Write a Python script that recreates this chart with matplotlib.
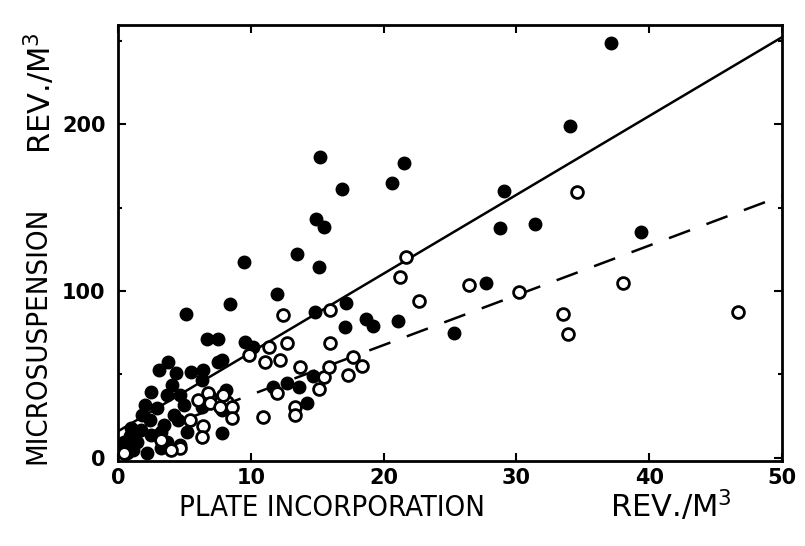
import matplotlib
matplotlib.use("Agg")
import matplotlib.pyplot as plt
from matplotlib.ticker import MultipleLocator

# filled circles (x = plate incorporation, y = microsuspension), rev./m3
filled_x = [37.1, 34.0, 15.2, 21.5, 20.6, 16.9, 14.9, 15.5, 9.5, 13.5, 15.1, 12.0,
            8.4, 5.1, 14.8, 17.2, 17.1, 18.7, 19.2, 21.1, 29.1, 28.8, 31.4, 39.4,
            27.7, 25.3, 6.7, 7.5, 9.6, 10.2, 7.8, 6.4, 14.7, 11.7, 12.7, 13.6,
            14.2, 8.1, 7.8, 7.8, 6.3,
            3.1, 3.8, 4.4, 5.5, 6.3, 2.5, 3.7, 4.7, 1.8, 2.9, 4.2, 5.2, 1.0, 0.45,
            1.4, 2.5, 3.7, 4.7, 0.7, 2.2, 3.2, 7.5, 4.1, 2.4, 3.5, 4.5, 1.7, 0.15,
            1.1, 3.2, 5.0, 2.0, 0.9]
filled_y = [248.5, 198.8, 180.2, 176.6, 164.7, 161.1, 143.1, 138.3, 117.4, 122.2, 114.4, 98.2,
            92.2, 86.2, 87.4, 92.8, 78.4, 83.2, 79.0, 82.0, 159.9, 137.7, 140.1, 135.3,
            104.8, 74.9, 71.3, 71.3, 69.5, 66.5, 58.7, 52.7, 49.1, 42.5, 44.9, 42.5,
            32.9, 40.7, 28.7, 15.0, 30.5,
            52.7, 57.5, 50.9, 51.5, 46.7, 39.5, 37.7, 37.7, 25.7, 29.9, 25.7, 15.6, 18.0, 9.6,
            9.6, 13.8, 9.6, 7.8, 3.0, 3.0, 6.0, 57.5, 43.7, 22.8, 19.8, 22.8, 16.8, 7.8,
            4.8, 15.6, 31.7, 31.7, 13.2]

# open circles
open_x = [12.4, 16.0, 21.7, 21.2, 22.7, 34.6, 26.4, 30.2, 38.0, 33.5, 33.9, 46.7,
          16.0, 11.4, 12.7, 9.9, 11.1, 12.2, 13.7, 15.5, 15.9, 17.7, 18.4, 17.3,
          15.1, 12.0, 13.3, 13.3, 10.9, 6.9, 8.2, 8.6, 8.6, 6.4, 6.3, 6.8, 6.0,
          6.9, 7.9, 7.7, 4.7, 4.0, 0.45, 3.2, 5.4]
open_y = [85.6, 88.6, 120.4, 108.4, 94.0, 159.3, 103.6, 99.4, 104.8, 86.2, 74.3, 87.4,
          68.9, 66.5, 68.9, 61.7, 57.5, 58.7, 54.5, 48.5, 54.5, 60.5, 55.1, 49.7,
          41.3, 38.9, 30.5, 25.7, 24.6, 36.5, 33.5, 30.5, 24.0, 19.2, 12.6, 38.9, 34.7,
          32.9, 37.7, 30.5, 6.0, 4.8, 3.0, 10.8, 22.8]

# regression lines
solid_x = [0, 50]
solid_y = [16, 252]
dashed_x = [2, 50]
dashed_y = [14, 157]

fig = plt.figure(figsize=(8.05, 5.46), dpi=100)
ax = fig.add_axes([0.1466, 0.1557, 0.8248, 0.7985])

ax.plot(solid_x, solid_y, color='black', lw=1.8, zorder=2)
ax.plot(dashed_x, dashed_y, color='black', lw=1.8, dashes=(9, 7), zorder=2)
ax.plot(filled_x, filled_y, 'o', ms=9, color='black', zorder=3)
ax.plot(open_x, open_y, 'o', ms=8.5, mfc='white', mec='black', mew=2, zorder=4)

ax.set_xlim(0, 50)
ax.set_ylim(-1.8, 259.3)
ax.set_xticks([0, 10, 20, 30, 40, 50])
ax.set_yticks([0, 100, 200])
ax.yaxis.set_minor_locator(MultipleLocator(50))
ax.tick_params(which='both', direction='in', top=True, right=True, width=1.5)
ax.tick_params(which='major', length=6, labelsize=15)
ax.tick_params(axis='x', pad=5)
ax.tick_params(axis='y', pad=9)
ax.tick_params(which='minor', length=3)
for s in ax.spines.values():
    s.set_linewidth(2)
for lbl in ax.get_xticklabels() + ax.get_yticklabels():
    lbl.set_fontweight('bold')

lab_font = ['DejaVu Sans', 'Liberation Sans']
kw = dict(family=lab_font, fontsize=21, fontstretch='condensed', ha='center', va='center')
kw_rev = dict(family=lab_font, fontsize=22, ha='center', va='center')
fig.text(0.412, 0.070, 'PLATE INCORPORATION', **kw)
fig.text(0.834, 0.074, 'REV./M$^3$', **kw_rev)
fig.text(0.047, 0.385, 'MICROSUSPENSION', rotation=90, **kw)
fig.text(0.049, 0.83, 'REV./M$^3$', rotation=90, **kw_rev)

fig.savefig('out.png', dpi=100)
